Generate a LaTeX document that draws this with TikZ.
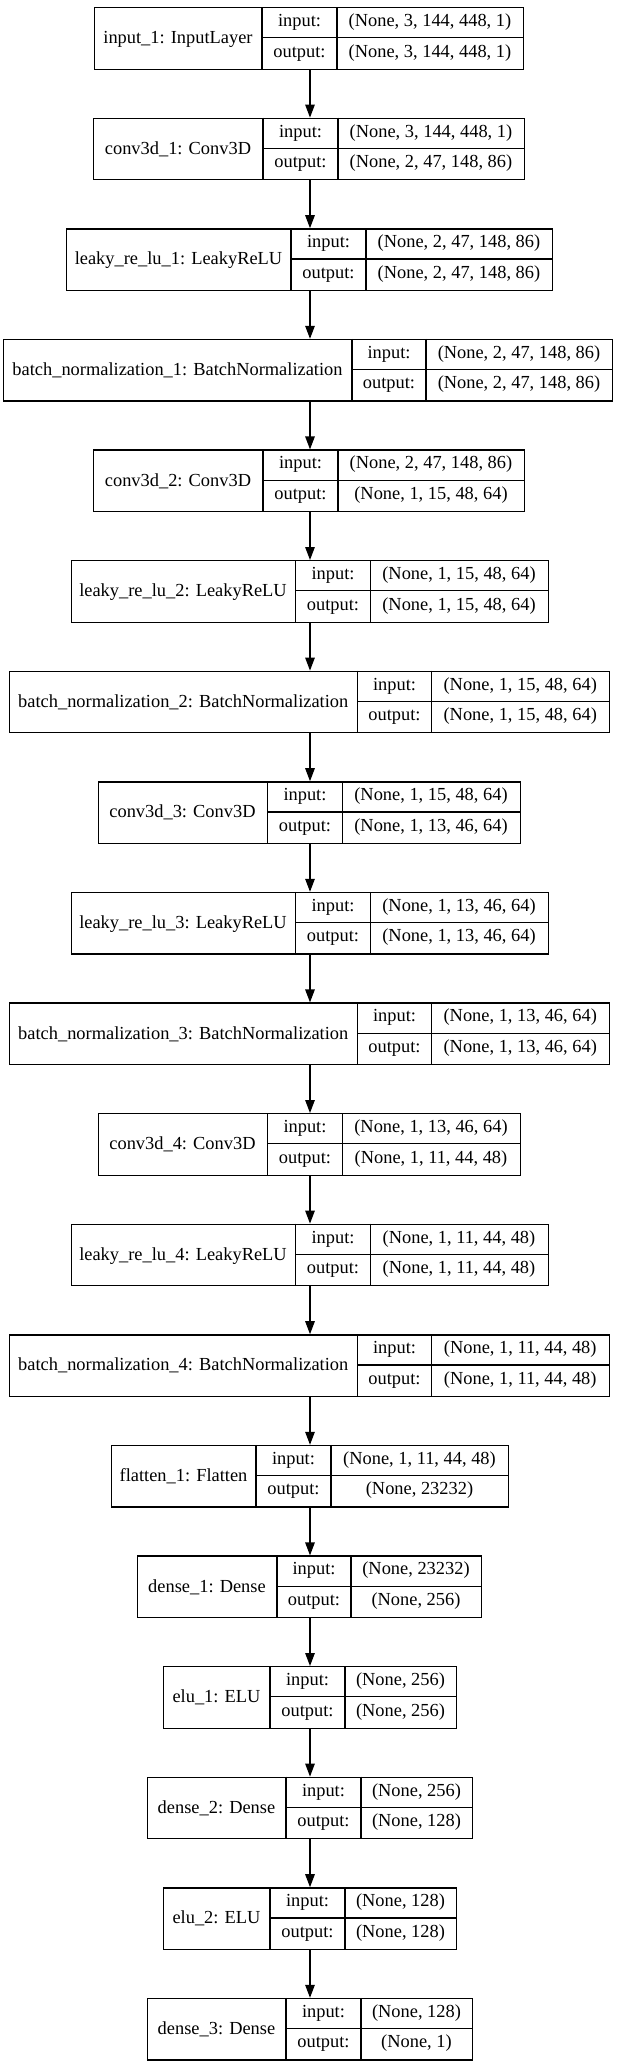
\documentclass[tikz,border=0pt]{standalone}
\usepackage{fontspec}
\setmainfont{Liberation Serif}
\usetikzlibrary{arrows.meta}
\tikzset{
  layer/.style={draw=black, line width=1.3pt, inner sep=0pt, minimum height=61.5pt, fill=white},
  sepline/.style={draw=black, line width=1.3pt},
  txt/.style={inner sep=0pt, anchor=base, font=\fontsize{18.4}{22}\selectfont},
  arr/.style={draw=black, line width=1.3pt, -{Triangle[length=13pt,width=9.5pt]}}
}
\newcommand\layerbox[9]{%
  \pgfmathsetmacro\lbTy{7+110.6*#2}%
  \pgfmathsetmacro\lbMy{\lbTy+30.75}%
  \pgfmathsetmacro\lbBy{\lbTy+61.5}%
  \pgfmathsetmacro\lbW{#6-#3}%
  \pgfmathsetmacro\lbLx{(#3+#4)/2}%
  \pgfmathsetmacro\lbIx{(#4+#5)/2}%
  \pgfmathsetmacro\lbVx{(#5+#6)/2}%
  \node[layer, minimum width=\lbW pt, anchor=north west] (#1) at (#3,\lbTy) {};
  \draw[sepline] (#4,\lbTy) -- (#4,\lbBy);
  \draw[sepline] (#4,\lbMy) -- (#6,\lbMy);
  \draw[sepline] (#5,\lbTy) -- (#5,\lbBy);
  \node[txt] (#1l) at (\lbLx,\lbMy+6) {#7};
  \node[txt] (#1i) at (\lbIx,\lbTy+19.4) {input:};
  \node[txt] (#1o) at (\lbIx,\lbMy+19.4) {output:};
  \node[txt] (#1vi) at (\lbVx,\lbTy+19.4) {#8};
  \node[txt] (#1vo) at (\lbVx,\lbMy+19.4) {#9};
}
\begin{document}
\begin{tikzpicture}[x=1pt,y=-1pt]
\useasboundingbox (0,0) rectangle (619,2065);
\coordinate (axis) at (310,0);
\layerbox{L0}{0}{94}{262}{337}{523}{input\_1: InputLayer}{(None, 3, 144, 448, 1)}{(None, 3, 144, 448, 1)}
\layerbox{L1}{1}{93}{263}{338}{524}{conv3d\_1: Conv3D}{(None, 3, 144, 448, 1)}{(None, 2, 47, 148, 86)}
\layerbox{L2}{2}{66}{291}{366}{552}{leaky\_re\_lu\_1: LeakyReLU}{(None, 2, 47, 148, 86)}{(None, 2, 47, 148, 86)}
\layerbox{L3}{3}{3}{352}{426}{612}{batch\_normalization\_1: BatchNormalization}{(None, 2, 47, 148, 86)}{(None, 2, 47, 148, 86)}
\layerbox{L4}{4}{93}{263}{338}{524}{conv3d\_2: Conv3D}{(None, 2, 47, 148, 86)}{(None, 1, 15, 48, 64)}
\layerbox{L5}{5}{70.5}{295.5}{370.5}{547.5}{leaky\_re\_lu\_2: LeakyReLU}{(None, 1, 15, 48, 64)}{(None, 1, 15, 48, 64)}
\layerbox{L6}{6}{9}{357.5}{431.5}{609}{batch\_normalization\_2: BatchNormalization}{(None, 1, 15, 48, 64)}{(None, 1, 15, 48, 64)}
\layerbox{L7}{7}{97.5}{267.5}{342.5}{519.5}{conv3d\_3: Conv3D}{(None, 1, 15, 48, 64)}{(None, 1, 13, 46, 64)}
\layerbox{L8}{8}{70.5}{295.5}{370.5}{547.5}{leaky\_re\_lu\_3: LeakyReLU}{(None, 1, 13, 46, 64)}{(None, 1, 13, 46, 64)}
\layerbox{L9}{9}{9}{357.5}{431.5}{609}{batch\_normalization\_3: BatchNormalization}{(None, 1, 13, 46, 64)}{(None, 1, 13, 46, 64)}
\layerbox{L10}{10}{97.5}{267.5}{342.5}{519.5}{conv3d\_4: Conv3D}{(None, 1, 13, 46, 64)}{(None, 1, 11, 44, 48)}
\layerbox{L11}{11}{70.5}{295.5}{370.5}{547.5}{leaky\_re\_lu\_4: LeakyReLU}{(None, 1, 11, 44, 48)}{(None, 1, 11, 44, 48)}
\layerbox{L12}{12}{9}{357.5}{431.5}{609}{batch\_normalization\_4: BatchNormalization}{(None, 1, 11, 44, 48)}{(None, 1, 11, 44, 48)}
\layerbox{L13}{13}{111}{256}{331}{508}{flatten\_1: Flatten}{(None, 1, 11, 44, 48)}{(None, 23232)}
\layerbox{L14}{14}{137}{277}{351}{481}{dense\_1: Dense}{(None, 23232)}{(None, 256)}
\layerbox{L15}{15}{163}{270}{345}{456}{elu\_1: ELU}{(None, 256)}{(None, 256)}
\layerbox{L16}{16}{147}{286}{361}{472}{dense\_2: Dense}{(None, 256)}{(None, 128)}
\layerbox{L17}{17}{163}{270}{345}{456}{elu\_2: ELU}{(None, 128)}{(None, 128)}
\layerbox{L18}{18}{147}{286}{361}{472}{dense\_3: Dense}{(None, 128)}{(None, 1)}
\foreach \a/\b in {L0/L1,L1/L2,L2/L3,L3/L4,L4/L5,L5/L6,L6/L7,L7/L8,L8/L9,L9/L10,L10/L11,L11/L12,L12/L13,L13/L14,L14/L15,L15/L16,L16/L17,L17/L18}
  \draw[arr] (\a.south -| axis) -- (\b.north -| axis);
\end{tikzpicture}
\end{document}
